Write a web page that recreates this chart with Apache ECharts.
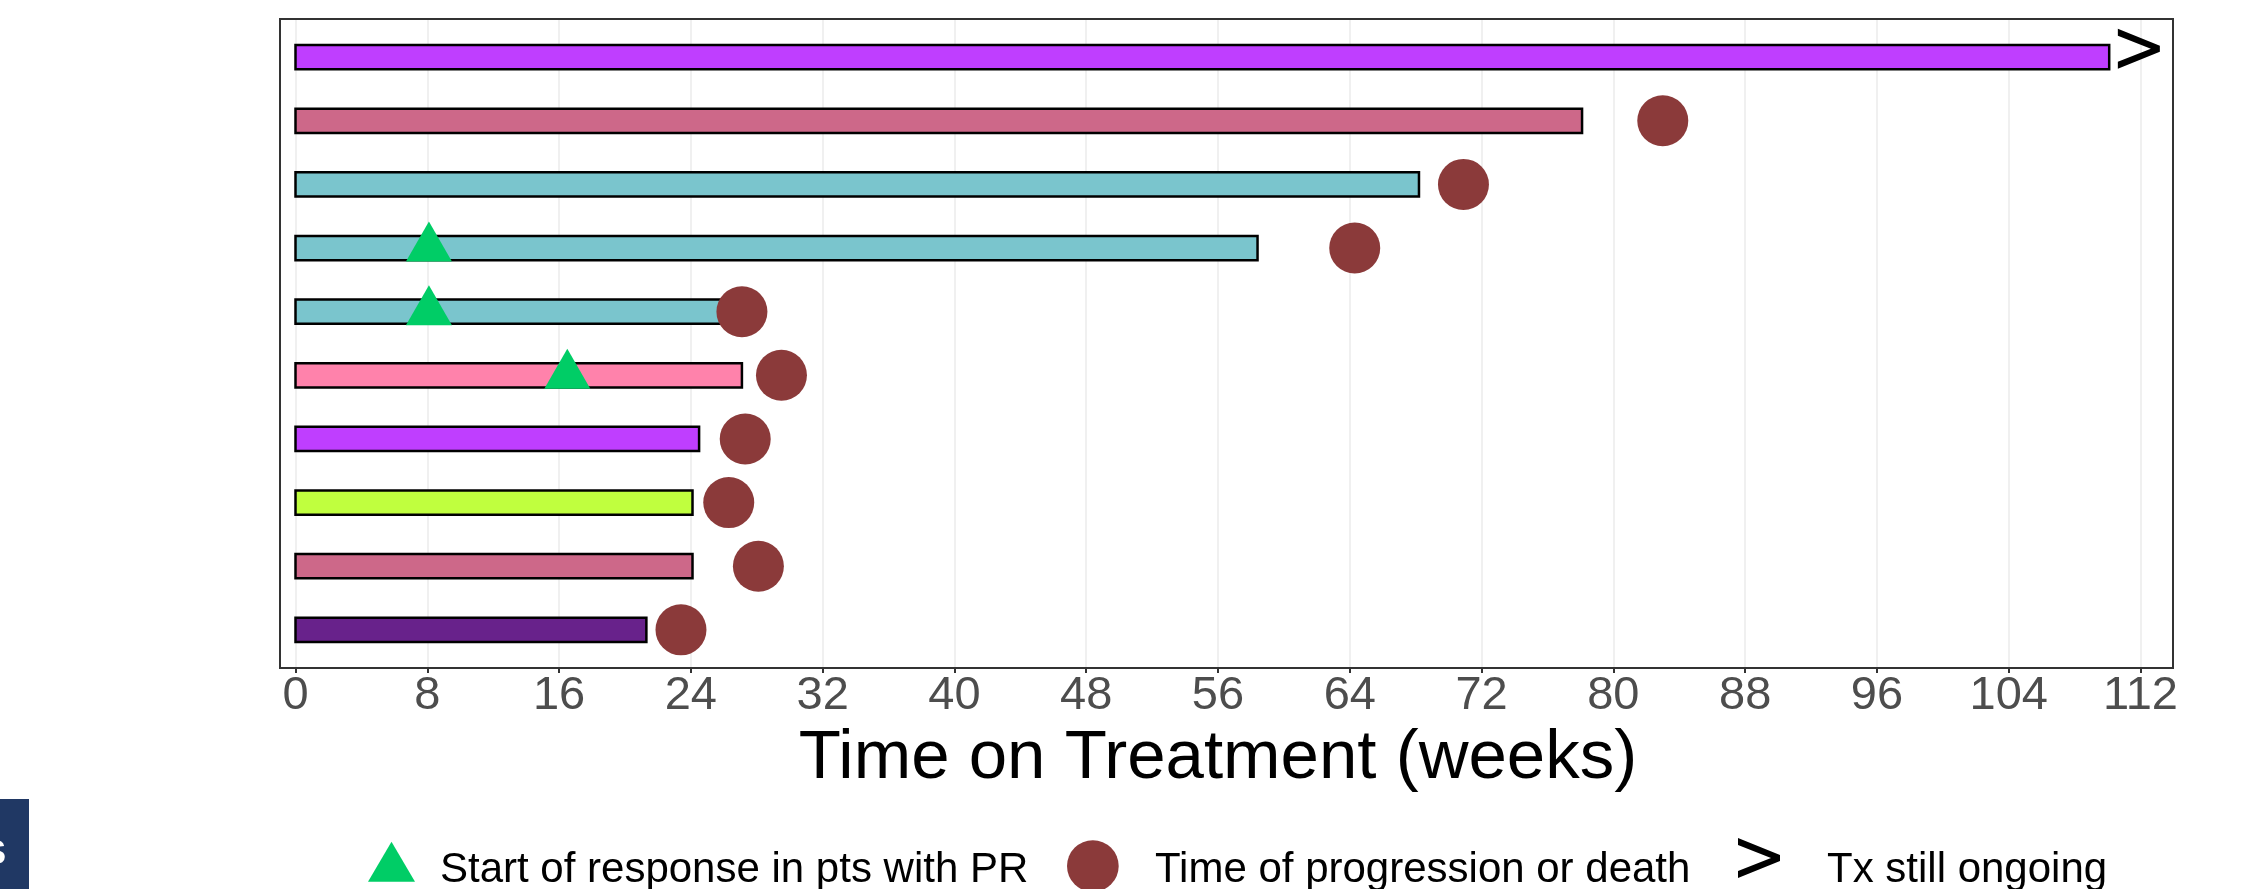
<!DOCTYPE html>
<html>
<head>
<meta charset="utf-8">
<script src="https://cdn.jsdelivr.net/npm/echarts@6/dist/echarts.min.js"></script>
<style>
html,body{margin:0;padding:0;background:#fff;}
#chart{width:2243px;height:889px;}
</style>
</head>
<body>
<div id="chart"></div>
<script>
// Rows listed top to bottom
const patients = ['1','2','3','4','5','6','7','8','9','10'];
const durationWeeks = [110.1, 78.1, 68.2, 58.4, 25.9, 27.1, 24.5, 24.1, 24.1, 21.3];
const responseStartWeeks = [null, null, null, 8.1, 8.1, 16.5, null, null, null, null];
const progressionWeeks = [null, 83.0, 70.9, 64.3, 27.1, 29.5, 27.3, 26.3, 28.1, 23.4];
const ongoingWeeks = [111.9, null, null, null, null, null, null, null, null, null];
const barColors = ['#BF3EFF', '#CD6889', '#7AC5CD', '#7AC5CD', '#7AC5CD', '#FF82AB', '#BF3EFF', '#C0FF3E', '#CD6889', '#68228B'];
const xTicks = [0, 8, 16, 24, 32, 40, 48, 56, 64, 72, 80, 88, 96, 104, 112];
const legendNames = ['Start of response in pts with PR', 'Time of progression or death', 'Tx still ongoing'];
const xTitle = 'Time on Treatment (weeks)';

const FONT = "'Liberation Sans', Arial, sans-serif";
const chevron = 'path://M0,0 L42,17 L42,23 L0,40 L0,33 L33,20 L0,7 Z';

function pts(arr) {
  const out = [];
  arr.forEach((v, i) => { if (v != null) out.push([v, i + 1]); });
  return out;
}

function iconLegend(name, icon, left, top, w, h) {
  return {
    data: [{name: name, icon: icon}], left: left, top: top, padding: 0,
    itemWidth: w, itemHeight: h, selectedMode: false,
    formatter: function () { return ''; },
    textStyle: {fontSize: 1}
  };
}
function textLegend(name, left, top) {
  return {
    data: [{name: name, icon: 'circle'}], left: left, top: top, padding: 0,
    itemWidth: 0, itemHeight: 0, selectedMode: false,
    itemStyle: {opacity: 0},
    textStyle: {fontSize: 42, lineHeight: 42, color: '#000', fontFamily: FONT}
  };
}

const chart = echarts.init(document.getElementById('chart'), null, {renderer: 'canvas'});
const option = {
  backgroundColor: '#fff',
  animation: false,
  grid: [
    {left: 295.5, width: 1845, top: 19, height: 649, containLabel: false},
    {left: 280, width: 1893, top: 19, height: 649, show: true, borderColor: '#333333', borderWidth: 2, backgroundColor: 'transparent', z: 5}
  ],
  xAxis: [
    {
      type: 'value', gridIndex: 0, min: xTicks[0], max: xTicks[xTicks.length - 1], interval: 8,
      axisLine: {show: false},
      axisTick: {show: true, length: 5, lineStyle: {color: '#333333', width: 2}},
      splitLine: {show: true, lineStyle: {color: '#EBEBEB', width: 1.5}},
      axisLabel: {fontSize: 47, color: '#4D4D4D', fontFamily: FONT, margin: 5},
      name: xTitle, nameLocation: 'middle', nameGap: 52,
      nameTextStyle: {fontSize: 69, color: '#000', fontFamily: FONT}
    },
    {type: 'value', gridIndex: 1, show: false}
  ],
  yAxis: [
    {type: 'value', gridIndex: 0, min: 0.4, max: 10.6, inverse: true, show: false},
    {type: 'value', gridIndex: 1, show: false}
  ],
  legend: [
    iconLegend(legendNames[0], 'triangle', 368, 841.7, 47, 40),
    textLegend(legendNames[0], 435, 849),
    iconLegend(legendNames[1], 'circle', 1067, 840.2, 51.7, 51.7),
    textLegend(legendNames[1], 1150, 849),
    iconLegend(legendNames[2], chevron, 1738, 838, 42, 40),
    textLegend(legendNames[2], 1822, 849)
  ],
  series: [
    {
      type: 'custom', name: 'Duration', xAxisIndex: 0, yAxisIndex: 0, z: 2,
      encode: {x: 0, y: 1},
      data: durationWeeks.map((v, i) => [v, i + 1]),
      renderItem: function (params, api) {
        const yv = api.value(1);
        const p0 = api.coord([0, yv]);
        const p1 = api.coord([api.value(0), yv]);
        const h = api.size([0, 1])[1] * 0.38;
        return {
          type: 'rect',
          shape: {x: p0[0], y: p0[1] - h / 2, width: p1[0] - p0[0], height: h},
          style: {fill: barColors[params.dataIndex], stroke: '#000', lineWidth: 2.5}
        };
      }
    },
    {
      type: 'scatter', name: legendNames[0], xAxisIndex: 0, yAxisIndex: 0, z: 4,
      symbol: 'triangle', symbolSize: [46, 40], symbolOffset: [0, -6.5],
      itemStyle: {color: '#00CD66', opacity: 1},
      data: pts(responseStartWeeks)
    },
    {
      type: 'scatter', name: legendNames[1], xAxisIndex: 0, yAxisIndex: 0, z: 3,
      symbol: 'circle', symbolSize: 51,
      itemStyle: {color: '#8B3A3A', opacity: 1},
      data: pts(progressionWeeks)
    },
    {
      type: 'scatter', name: legendNames[2], xAxisIndex: 0, yAxisIndex: 0, z: 4,
      symbol: chevron, symbolSize: [42, 40], symbolOffset: [0, -8.5],
      itemStyle: {color: '#000', opacity: 1},
      data: pts(ongoingWeeks)
    }
  ],
  graphic: [
    {type: 'rect', left: 0, top: 799, shape: {width: 29, height: 90}, style: {fill: '#203864'}, silent: true},
    {type: 'text', x: 0, y: 0, style: {x: 6, y: 854, text: 'S', align: 'right', verticalAlign: 'middle', fill: '#fff', fontSize: 35, fontWeight: 'bold', fontFamily: FONT}, silent: true, z: 10}
  ]
};
chart.setOption(option);
</script>
</body>
</html>
